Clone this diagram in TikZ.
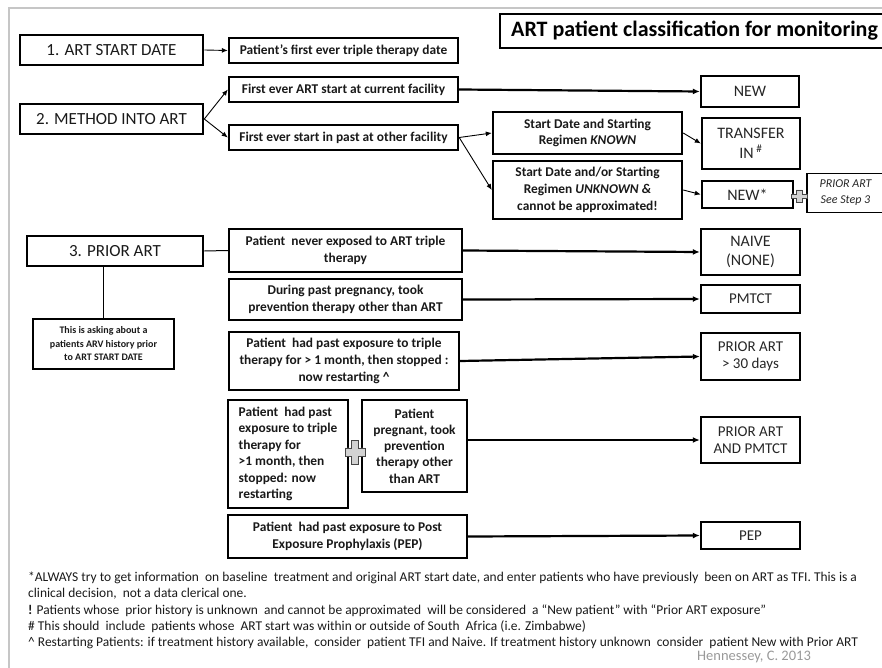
\documentclass[tikz,border=0pt]{standalone}
\usepackage{fontspec}
\setmainfont{Carlito}
\usetikzlibrary{arrows.meta}
\begin{document}
\begin{tikzpicture}[x=1pt,y=-1pt,
 box/.style={draw, line width=2.4pt, inner sep=1pt, align=center, text=black!90,
   font=\fontsize{13.4}{16.8}\selectfont\bfseries},
 stepbox/.style={draw, line width=2.6pt, inner sep=1pt, align=center, text=black!90,
   font=\fontsize{17}{20}\selectfont},
 res/.style={draw, line width=2.4pt, inner sep=1pt, align=center, text=black!85,
   font=\fontsize{16}{19.5}\selectfont},
 res2/.style={res, font=\fontsize{15}{17.5}\selectfont},
 arr/.style={-{Latex[length=6pt,width=5pt]}, line width=0.9pt},
 tarr/.style={-{Latex[length=7pt,width=6pt]}, line width=2.2pt},
 plussign/.pic={\filldraw[fill=gray!35, draw=gray!55!black, line width=0.5pt]
   (-0.35,-1) -- (0.35,-1) -- (0.35,-0.35) -- (1,-0.35) -- (1,0.35) -- (0.35,0.35)
   -- (0.35,1) -- (-0.35,1) -- (-0.35,0.35) -- (-1,0.35) -- (-1,-0.35) -- (-0.35,-0.35) -- cycle;},
 foot/.style={anchor=base west, inner sep=0pt, font=\fontsize{13.45}{15}\selectfont, text=black!90}
 ]
\useasboundingbox (0,0) rectangle (882,668);
\clip (0,0) rectangle (882,668);
% frame
\draw[gray!45, line width=2pt] (9,668) -- (9,8) -- (882,8);
% title
\draw[line width=2.4pt] (500,14) rectangle (900,48);
\node[anchor=west, inner sep=0pt, font=\fontsize{22}{24}\selectfont\bfseries] (title) at (511,31) {ART patient classification for monitoring};

% step 1 & 2
\node[stepbox, minimum width=183pt, minimum height=30pt] (s1) at (111.5,50) {1. ART START DATE};
\node[box, minimum width=229pt, minimum height=25pt] (p1) at (343.5,50.5) {Patient’s first ever triple therapy date};
\node[stepbox, minimum width=183pt, minimum height=30pt] (s2) at (111.5,119) {2. METHOD INTO ART};
\node[box, minimum width=229pt, minimum height=25pt] (cur) at (343.5,89.5) {First ever ART start at current facility};
\node[box, minimum width=229pt, minimum height=25pt] (oth) at (343.5,137.5) {First ever start in past at other facility};
\node[res, minimum width=98pt, minimum height=31pt] (new) at (750,91.5) {NEW};
\node[box, minimum width=189pt, minimum height=42pt] (kn) at (587.5,133) {Start Date and Starting\\Regimen\ \textit{KNOWN}};
\node[res, minimum width=98pt, minimum height=51pt] (ti) at (751,143.5) {TRANSFER\\IN\,\textsuperscript{\#}};
\node[box, minimum width=189pt, minimum height=58pt] (unk) at (587.5,190) {Start Date and/or Starting\\Regimen\ \textit{UNKNOWN \&}\\cannot be approximated!};
\node[res, minimum width=91pt, minimum height=27pt] (newst) at (747.5,194.5) {NEW*};
\node[draw, line width=1.8pt, minimum width=77pt, minimum height=39pt, align=center, inner sep=1pt,
  font=\fontsize{12}{16}\selectfont\itshape, text=black!85] (pa) at (845.5,193) {PRIOR ART\\See Step 3};
\pic[xscale=8, yscale=6] at (799,196) {plussign};

\draw[arr] (s1.east) -- (p1.west);
\draw[arr] (s2.east) -- (cur.west);
\draw[arr] (s2.east) -- (oth.west);
\draw[tarr] (cur.east) -- (new.west);
\draw[arr] (oth.east) -- (kn.west);
\draw[arr] (oth.east) -- (unk.west);
\draw[arr] (kn.east) -- (ti.west);
\draw[arr] (unk.east) -- (newst.west);

% step 3
\node[stepbox, minimum width=176pt, minimum height=30pt] (s3) at (115,251) {3. PRIOR ART};
\node[draw, line width=2.2pt, minimum width=141pt, minimum height=50pt, align=center, inner sep=1pt,
  font=\fontsize{10}{13.5}\selectfont\bfseries, text=black!90] (note) at (103.5,344) {This is asking about a\\patients ARV history prior\\to ART START DATE};
\node[box, minimum width=233pt, minimum height=43pt] (nev) at (345.5,250.5) {Patient\ \ never exposed to ART triple\\therapy};
\node[box, minimum width=233pt, minimum height=41pt] (preg) at (345.5,299.5) {During past pregnancy, took\\prevention therapy other than ART};
\node[box, minimum width=230pt, minimum height=58pt] (rest) at (344,361) {Patient\ \ had past exposure to triple\\therapy for > 1 month, then stopped :\\now restarting \textasciicircum};
\node[box, minimum width=120pt, minimum height=108pt, align=left, font=\fontsize{13.4}{16.5}\selectfont\bfseries] (rl) at (288,454) {Patient\ \ had past\\exposure to triple\\therapy for\\>1 month, then\\stopped: now\\restarting};
\node[box, minimum width=105pt, minimum height=92pt, font=\fontsize{13.4}{16.3}\selectfont\bfseries] (rp) at (414.5,446) {Patient\\pregnant, took\\prevention\\therapy other\\than ART};
\pic[xscale=10, yscale=12] at (355,452) {plussign};
\node[box, minimum width=239pt, minimum height=43pt] (pep) at (347.5,536.5) {Patient\ \ had past exposure to Post\\Exposure Prophylaxis (PEP)};

\node[res, minimum width=99pt, minimum height=46pt] (naive) at (750.5,252) {NAIVE\\(NONE)};
\node[res2, minimum width=99pt, minimum height=28pt] (pmtct) at (750.5,299) {PMTCT};
\node[res2, minimum width=99pt, minimum height=47pt] (pa30) at (750.5,356.5) {PRIOR ART\\> 30 days};
\node[res2, minimum width=99pt, minimum height=46pt] (pap) at (750.5,440) {PRIOR ART\\AND PMTCT};
\node[res2, minimum width=99pt, minimum height=27pt] (pepr) at (750.5,535.5) {PEP};

\draw[line width=1pt] (s3.east) -- (nev.west);
\draw[line width=1pt] (note.north) -- (note.north |- s3.south);
\draw[tarr] (nev.east) -- (naive.west);
\draw[tarr] (preg.east) -- (pmtct.west);
\draw[tarr] (rest.east) -- (pa30.west);
\draw[tarr] (rp.east |- pap.west) -- (pap.west);
\draw[tarr] (pep.east) -- (pepr.west);

% footnotes
\node[foot] (f1) at (28,581) {*ALWAYS try to get information\ \ on baseline\ \ treatment and original ART start date, and enter patients who have previously\ \ been on ART as TFI. This is a};
\node[foot] (f2) at (28,597) {clinical decision,\ \ not a data clerical one.};
\node[foot] (f3) at (28,614) {\textbf{!} Patients whose\ \ prior history is unknown\ \ and cannot be approximated\ \ will be considered\ \ a “New patient” with “Prior ART exposure”};
\node[foot] (f4) at (28,630) {\# This should\ \ include\ \ patients whose\ \ ART start was within or outside of South\ \ Africa (i.e. Zimbabwe)};
\node[foot] (f5) at (28,646) {\textasciicircum\ Restarting Patients: if treatment history available,\ \ consider\ \ patient TFI and Naive. If treatment history unknown\ \ consider\ \ patient New with Prior ART};
\node[foot, text=gray!80, font=\fontsize{14.5}{16}\selectfont] (hen) at (697,660) {Hennessey, C. 2013};
\end{tikzpicture}
\end{document}
